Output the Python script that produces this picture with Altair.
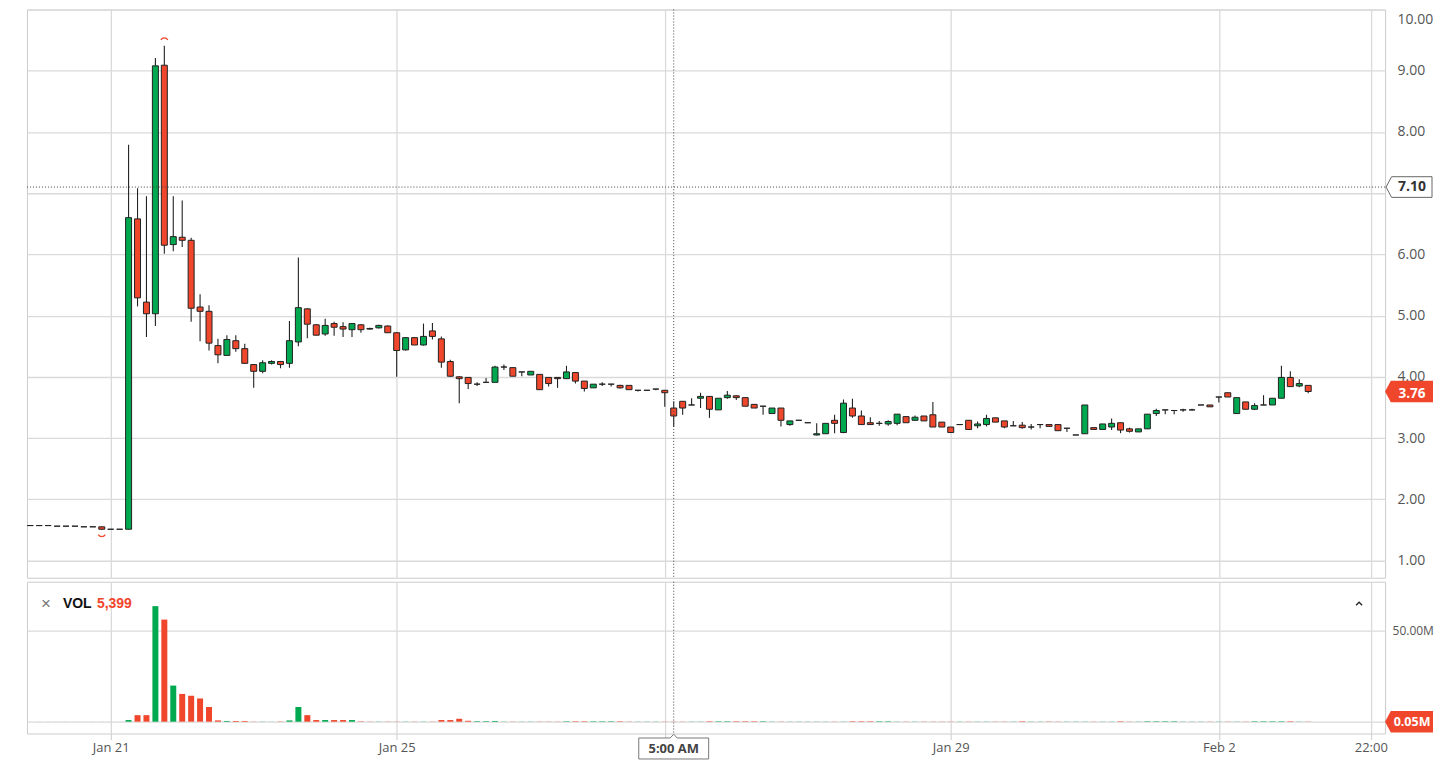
import altair as alt
import pandas as pd

# ---------------- data ----------------
candle_index = list(range(144))
open_p = [1.57,1.57,1.57,1.56,1.56,1.56,1.55,1.55,1.55,1.51,1.51,1.51,6.58,5.22,5.03,9.09,6.16,6.28,6.23,5.14,
          5.07,4.51,4.35,4.59,4.46,4.20,4.09,4.22,4.25,4.22,4.57,5.11,4.85,4.70,4.87,4.82,4.77,4.85,4.79,4.80,
          4.83,4.72,4.44,4.64,4.52,4.75,4.62,4.25,4.00,3.99,3.88,3.91,3.91,4.16,4.15,4.08,4.03,4.04,3.99,3.99,
          3.97,4.07,3.93,3.82,3.88,3.88,3.86,3.86,3.78,3.78,3.80,3.78,3.49,3.60,3.54,3.65,3.68,3.46,3.66,3.69,
          3.66,3.55,3.52,3.40,3.49,3.22,3.29,3.25,3.05,3.07,3.29,3.09,3.49,3.36,3.25,3.24,3.23,3.24,3.35,3.29,
          3.36,3.38,3.26,3.18,3.22,3.29,3.20,3.22,3.33,3.28,3.20,3.21,3.18,3.22,3.22,3.22,3.16,3.05,3.07,3.17,
          3.14,3.18,3.25,3.15,3.10,3.15,3.40,3.46,3.45,3.46,3.46,3.54,3.54,3.67,3.74,3.40,3.59,3.47,3.54,3.54,
          3.65,3.99,3.85,3.86]
high_p = [1.57,1.58,1.57,1.56,1.56,1.56,1.55,1.55,1.55,1.51,1.51,7.79,7.08,6.95,9.21,9.41,6.95,6.88,6.27,5.35,
          5.17,4.62,4.68,4.68,4.54,4.21,4.27,4.27,4.26,4.91,5.95,5.12,4.86,4.95,4.90,4.89,4.88,4.86,4.80,4.85,
          4.84,4.73,4.65,4.65,4.87,4.88,4.66,4.28,4.01,3.99,3.91,3.98,4.18,4.20,4.15,4.08,4.09,4.04,3.99,3.99,
          4.18,4.07,3.93,3.88,3.91,3.88,3.87,3.86,3.78,3.78,3.80,3.78,3.60,3.60,3.65,3.74,3.68,3.65,3.77,3.70,
          3.66,3.55,3.52,3.49,3.49,3.28,3.29,3.25,3.24,3.24,3.38,3.63,3.64,3.45,3.34,3.28,3.29,3.39,3.35,3.37,
          3.36,3.59,3.26,3.18,3.22,3.29,3.27,3.38,3.33,3.28,3.28,3.26,3.23,3.22,3.22,3.22,3.16,3.05,3.54,3.17,
          3.23,3.32,3.25,3.17,3.15,3.39,3.48,3.46,3.45,3.48,3.48,3.54,3.54,3.67,3.74,3.66,3.59,3.57,3.70,3.65,
          4.18,4.09,3.96,3.86]
low_p = [1.57,1.57,1.57,1.56,1.56,1.56,1.55,1.55,1.50,1.51,1.51,1.51,5.15,4.65,4.83,6.01,6.05,6.12,4.90,4.58,
         4.43,4.22,4.34,4.41,4.21,3.82,4.06,4.20,4.14,4.15,4.50,4.63,4.68,4.67,4.67,4.65,4.65,4.72,4.77,4.79,
         4.72,4.00,4.43,4.52,4.51,4.61,4.15,4.00,3.57,3.80,3.85,3.91,3.91,4.11,4.01,4.01,4.03,3.79,3.84,3.82,
         3.97,3.89,3.76,3.82,3.85,3.84,3.81,3.79,3.76,3.78,3.78,3.51,3.18,3.38,3.54,3.49,3.33,3.46,3.64,3.62,
         3.52,3.49,3.38,3.40,3.19,3.20,3.29,3.25,3.04,3.07,3.08,3.08,3.33,3.22,3.22,3.20,3.20,3.21,3.25,3.28,
         3.28,3.18,3.18,3.09,3.22,3.14,3.16,3.19,3.26,3.16,3.20,3.15,3.14,3.16,3.19,3.12,3.10,3.05,3.07,3.14,
         3.14,3.13,3.08,3.09,3.10,3.15,3.36,3.39,3.39,3.43,3.45,3.54,3.51,3.58,3.67,3.40,3.47,3.46,3.54,3.54,
         3.65,3.84,3.83,3.73]
close_p = [1.57,1.57,1.57,1.56,1.56,1.56,1.55,1.55,1.51,1.51,1.51,6.60,5.29,5.03,9.08,6.15,6.29,6.23,5.12,5.07,
           4.55,4.36,4.61,4.46,4.22,4.09,4.23,4.25,4.20,4.59,5.13,4.86,4.68,4.84,4.81,4.78,4.87,4.77,4.78,4.84,
           4.72,4.43,4.64,4.52,4.66,4.66,4.24,4.01,3.97,3.89,3.88,3.91,4.16,4.16,4.01,4.08,4.09,3.79,3.89,3.97,
           4.08,3.93,3.81,3.88,3.88,3.88,3.82,3.79,3.78,3.78,3.80,3.74,3.36,3.49,3.54,3.68,3.47,3.65,3.70,3.66,
           3.52,3.49,3.52,3.49,3.29,3.28,3.29,3.25,3.07,3.24,3.24,3.57,3.36,3.22,3.22,3.24,3.27,3.39,3.25,3.34,
           3.28,3.18,3.18,3.09,3.22,3.14,3.23,3.32,3.26,3.18,3.20,3.17,3.18,3.22,3.19,3.12,3.16,3.05,3.54,3.14,
           3.23,3.24,3.13,3.11,3.15,3.39,3.45,3.46,3.45,3.46,3.46,3.54,3.51,3.67,3.67,3.66,3.47,3.53,3.54,3.65,
           3.99,3.84,3.89,3.76]
volume_m = [0.02,0.02,0.02,0.02,0.02,0.02,0.02,0.02,0.02,0.02,0.02,0.9,3.6,3.6,63.7,56.3,19.9,15.3,14.3,12.8,
            8.1,0.7,0.4,0.4,0.4,0.1,0.1,0.05,0.05,0.7,8.1,3.6,0.9,0.9,0.9,0.9,0.9,0.2,0.1,0.1,
            0.1,0.1,0.1,0.1,0.1,0.1,0.9,0.9,1.6,0.5,0.3,0.3,0.4,0.1,0.1,0.1,0.1,0.1,0.1,0.1,
            0.25,0.25,0.25,0.25,0.25,0.25,0.25,0.1,0.1,0.1,0.1,0.1,0.1,0.1,0.1,0.1,0.25,0.25,0.25,0.25,
            0.25,0.25,0.25,0.1,0.1,0.1,0.1,0.1,0.1,0.1,0.1,0.1,0.25,0.25,0.25,0.25,0.25,0.1,0.1,0.1,
            0.1,0.1,0.1,0.1,0.1,0.1,0.1,0.1,0.1,0.1,0.1,0.25,0.1,0.1,0.1,0.1,0.1,0.1,0.1,0.1,
            0.1,0.1,0.25,0.1,0.1,0.25,0.25,0.25,0.25,0.1,0.1,0.1,0.1,0.1,0.1,0.1,0.1,0.25,0.25,0.25,
            0.25,0.25,0.1,0.1]

tick_index = [9, 41, 71, 103, 133, 150]
tick_text = ["Jan 21", "Jan 25", "", "Jan 29", "Feb 2", "22:00"]
price_ticks = [1, 2, 3, 4, 5, 6, 7, 8, 9, 10]
hidden_price_labels = [7]          # covered by the crosshair price badge
volume_ticks = [0, 50]

crosshair_index = [72]
crosshair_time = ["5:00 AM"]
crosshair_price = [7.10]
last_price = [3.76]
last_volume = [0]
last_volume_text = ["0.05M"]
vol_legend_value = "5,399"
high_marker = {"i": [15], "p": [9.41]}
low_marker = {"i": [8], "p": [1.50]}

# ---------------- frames ----------------
df = pd.DataFrame({"i": candle_index, "open": open_p, "high": high_p,
                   "low": low_p, "close": close_p, "vol": volume_m})
df["dir"] = ["up" if c > o else ("down" if c < o else "flat") for o, c in zip(df["open"], df["close"])]
df["vdir"] = ["down" if c < o else "up" for o, c in zip(df["open"], df["close"])]

GREEN = "#00a84f"
RED = "#f0462b"
GRID = "#dadada"
W = 1360
H1 = 569
H2 = 152
x_dom = [-0.37, 151.6]

x_scale = alt.Scale(domain=x_dom, nice=False, zero=False, padding=0)
p_scale = alt.Scale(domain=[0.718, 10.0], nice=False, zero=False)
v_scale = alt.Scale(domain=[-6.52, 77.17], nice=False, zero=False)
dir_color = alt.Color("dir:N", scale=alt.Scale(domain=["up", "down", "flat"], range=[GREEN, RED, "#222222"]), legend=None)
vdir_color = alt.Color("vdir:N", scale=alt.Scale(domain=["up", "down"], range=[GREEN, RED]), legend=None)

label_expr = ""
for v, t in zip(tick_index, tick_text):
    label_expr += f"datum.value == {v} ? '{t}' : "
label_expr += "''"

price_label_expr = ""
for v in hidden_price_labels:
    price_label_expr += f"datum.value == {v} ? '' : "
price_label_expr += "format(datum.value, '.2f')"

x_grid_axis = alt.Axis(values=tick_index, grid=True, gridColor=GRID, gridWidth=1.3, labels=False,
                       ticks=False, domain=False, title=None)
x_bottom_axis = alt.Axis(values=tick_index, grid=True, gridColor=GRID, gridWidth=1.3, labelExpr=label_expr,
                         ticks=True, tickSize=6, tickColor="#cccccc", domain=False, title=None,
                         labelColor="#555555", labelFont="Open Sans", labelFontSize=13, labelPadding=2,
                         labelOverlap=False, labelFlush=False)
price_axis = alt.Axis(values=price_ticks, labelExpr=price_label_expr, orient="right", grid=True,
                      gridColor=GRID, gridWidth=1.3, ticks=False, tickSize=0, domain=False, labelFlush=True,
                      labelFlushOffset=-3, labelPadding=12, labelColor="#555555", labelFont="Open Sans",
                      labelFontSize=14, title=None)
vol_axis = alt.Axis(values=volume_ticks, orient="right", grid=True, gridColor=GRID, gridWidth=1.3,
                    labelExpr="datum.value == 50 ? '50.00M' : ''", ticks=False, tickSize=0, domain=False,
                    labelPadding=7, labelColor="#555555", labelFont="Open Sans", labelFontSize=12,
                    labelLimit=60, title=None)

badge_path = "M -1 0 L -0.76 -0.45 L 1 -0.45 L 1 0.45 L -0.76 0.45 Z"
arc_top = "M -1 0.35 A 1.15 1.15 0 0 1 1 0.35"
arc_bottom = "M -1 -0.35 A 1.15 1.15 0 0 0 1 -0.35"
time_box = "M -1 -0.3 L -0.1 -0.3 L 0 -0.41 L 0.1 -0.3 L 1 -0.3 L 1 0.3 L -1 0.3 Z"
chevron = "M -1 0.5 L 0 -0.5 L 1 0.5"

base = alt.Chart(df)

# ---------------- price panel ----------------
wicks = base.mark_rule(color="#222222", strokeWidth=1.1).encode(
    x=alt.X("i:Q", scale=x_scale, axis=x_grid_axis),
    y=alt.Y("low:Q", scale=p_scale, axis=price_axis),
    y2="high:Q")
bodies = base.mark_bar(width=6, stroke="#222222", strokeWidth=1).encode(
    x="i:Q", y="open:Q", y2="close:Q", color=dir_color)

cross_df = pd.DataFrame({"i": crosshair_index, "t": crosshair_time})
hp_df = pd.DataFrame({"p": crosshair_price, "t": [f"{v:.2f}" for v in crosshair_price]})
lp_df = pd.DataFrame({"p": last_price, "t": [f"{v:.2f}" for v in last_price]})

vline_p = alt.Chart(cross_df).mark_rule(strokeDash=[1, 2], color="#444444", strokeWidth=1).encode(x="i:Q")
hline_p = alt.Chart(hp_df).mark_rule(strokeDash=[1, 2], color="#444444", strokeWidth=1).encode(y="p:Q")

hp_badge = alt.Chart(hp_df).mark_point(shape=badge_path, filled=True, fill="white", stroke="#666666",
                                       strokeWidth=1, size=46 * 46, opacity=1).encode(
    x=alt.value(W + 24), y="p:Q")
hp_text = alt.Chart(hp_df).mark_text(font="Open Sans", fontWeight="bold", fontSize=14, color="#333333",
                                     align="center", baseline="middle").encode(
    x=alt.value(W + 27), y="p:Q", text="t:N")
lp_badge = alt.Chart(lp_df).mark_point(shape=badge_path, filled=True, fill=RED, strokeWidth=0,
                                       size=48 * 48, opacity=1).encode(
    x=alt.value(W + 24), y="p:Q")
lp_text = alt.Chart(lp_df).mark_text(font="Open Sans", fontWeight="bold", fontSize=13.5, color="white",
                                     align="center", baseline="middle", dy=2).encode(
    x=alt.value(W + 27), y="p:Q", text="t:N")

hi_mark = alt.Chart(pd.DataFrame(high_marker)).mark_point(shape=arc_top, filled=False, color=RED,
                                                          strokeWidth=1.2, size=49, yOffset=-7, opacity=1).encode(
    x="i:Q", y="p:Q")
lo_mark = alt.Chart(pd.DataFrame(low_marker)).mark_point(shape=arc_bottom, filled=False, color=RED,
                                                         strokeWidth=1.2, size=49, yOffset=6, opacity=1).encode(
    x="i:Q", y="p:Q")

price = alt.layer(wicks, bodies, hline_p, vline_p, hi_mark, lo_mark, hp_badge, hp_text, lp_badge, lp_text).properties(
    width=W, height=H1)

# ---------------- volume panel ----------------
vbars = base.mark_bar(width=6).encode(
    x=alt.X("i:Q", scale=x_scale, axis=x_bottom_axis),
    y=alt.Y("vol:Q", scale=v_scale, axis=vol_axis),
    y2=alt.datum(0),
    color=vdir_color)
vline_v = alt.Chart(cross_df).mark_rule(strokeDash=[1, 2], color="#444444", strokeWidth=1).encode(x="i:Q")

lv_df = pd.DataFrame({"v": last_volume, "t": last_volume_text})
lv_badge = alt.Chart(lv_df).mark_point(shape=badge_path, filled=True, fill=RED, strokeWidth=0,
                                       size=48 * 48, opacity=1).encode(x=alt.value(W + 24), y="v:Q")
lv_text = alt.Chart(lv_df).mark_text(font="Open Sans", fontWeight="bold", fontSize=12.5, color="white",
                                     align="center", baseline="middle").encode(
    x=alt.value(W + 27), y="v:Q", text="t:N")

leg_df = pd.DataFrame({"a": ["×"], "b": ["VOL"], "c": [vol_legend_value]})
leg_x = alt.Chart(leg_df).mark_text(font="Liberation Sans", fontSize=17, color="#777777", align="left",
                                    baseline="middle").encode(x=alt.value(14), y=alt.value(22), text="a:N")
leg_vol = alt.Chart(leg_df).mark_text(font="Liberation Sans", fontWeight="bold", fontSize=14, color="#111111",
                                      align="left", baseline="middle").encode(x=alt.value(36), y=alt.value(22), text="b:N")
leg_val = alt.Chart(leg_df).mark_text(font="Liberation Sans", fontWeight="bold", fontSize=14, color=RED,
                                      align="left", baseline="middle").encode(x=alt.value(70), y=alt.value(22), text="c:N")
caret = alt.Chart(leg_df).mark_point(shape=chevron, filled=False, color="#222222", strokeWidth=1.3,
                                     size=36, opacity=1).encode(x=alt.value(W - 26), y=alt.value(22))

time_badge = alt.Chart(cross_df).mark_point(shape=time_box, filled=True, fill="white", stroke="#777777",
                                            strokeWidth=1, size=70 * 70, opacity=1).encode(
    x="i:Q", y=alt.value(H2 + 15))
time_text = alt.Chart(cross_df).mark_text(font="Open Sans", fontWeight="bold", fontSize=13, color="#444444",
                                          align="center", baseline="middle").encode(
    x="i:Q", y=alt.value(H2 + 16), text="t:N")

volume = alt.layer(vbars, vline_v, lv_badge, lv_text, leg_x, leg_vol, leg_val, caret, time_badge, time_text).properties(
    width=W, height=H2)

chart = alt.vconcat(price, volume, spacing=2).properties(
    padding={"left": 18, "top": 0, "right": 0, "bottom": 0}
).configure_view(stroke="#cccccc", strokeWidth=1)

chart.save("out.html", embed_options={"renderer": "svg", "actions": False})
